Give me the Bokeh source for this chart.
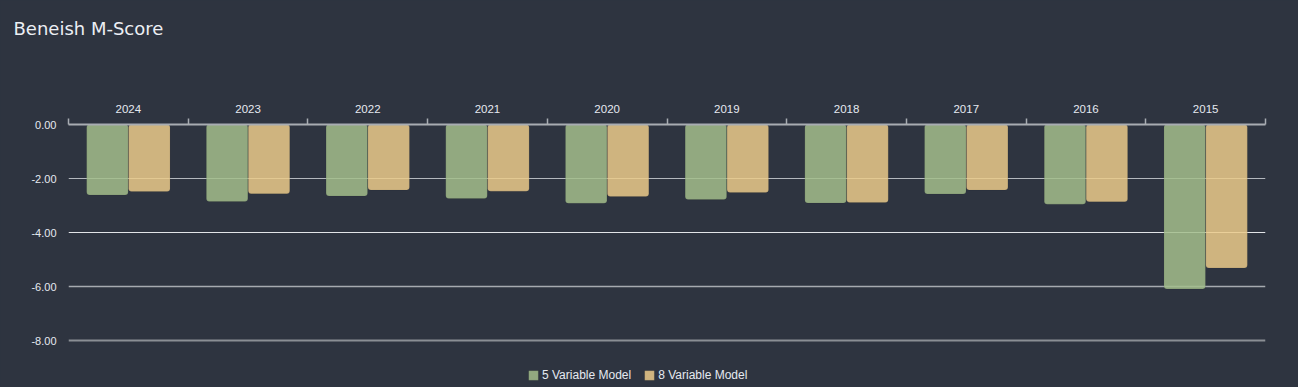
from bokeh.plotting import figure
from bokeh.models import (Range1d, FixedTicker, NumeralTickFormatter, Span, Title,
                          Legend, LegendItem, ColumnDataSource)
from bokeh.embed import file_html
from bokeh.resources import INLINE

# ---- data ----
years = ["2024", "2023", "2022", "2021", "2020", "2019", "2018", "2017", "2016", "2015"]
model5 = [-2.61, -2.85, -2.65, -2.74, -2.92, -2.78, -2.91, -2.57, -2.95, -6.09]
model8 = [-2.48, -2.56, -2.43, -2.47, -2.67, -2.52, -2.89, -2.43, -2.86, -5.31]
y_ticks = [0, -2, -4, -6, -8]
series_names = ["5 Variable Model", "8 Variable Model"]

BG = "#2E3440"
TXT = "#E5E9F0"
GREEN = "#A3BE8C"
YELLOW = "#EBCB8B"

n = len(years)
centers = [i + 0.5 for i in range(n)]
bw = 0.35

src = ColumnDataSource(dict(
    x5=[c - bw / 2 for c in centers],
    x8=[c + bw / 2 for c in centers],
    m5=model5, m8=model8, zero=[0] * n,
))

# frame spans from the top axis down to the canvas bottom; -8 sits at the last grid line
p = figure(width=1298, height=387, output_backend="svg", toolbar_location=None,
           x_range=Range1d(0, n), y_range=Range1d(-9.74, 0),
           x_axis_location="above",
           background_fill_color=BG, border_fill_color=BG,
           min_border_left=68, min_border_right=33, min_border_top=124,
           min_border_bottom=0)
p.outline_line_color = None
p.grid.visible = False

# spacer between axis and title
p.add_layout(Title(text=" ", text_font_size="10px", standoff=50), "above")

# title
p.title.text = "Beneish M-Score"
p.title.text_font = "DejaVu Sans"
p.title.text_font_size = "18px"
p.title.text_font_style = "normal"
p.title.text_color = "#ECEFF4"
p.title.align = "left"
p.title.offset = -55
p.title.standoff = 0

# grid lines
grid_styles = {-2: ("#B4B8BE", 1), -4: ("#E2E4E8", 1), -6: ("#A6AAB0", 1.5), -8: ("#8A8E94", 2)}
for yv in y_ticks[1:]:
    col, w = grid_styles[yv]
    p.add_layout(Span(location=yv, dimension="width", line_color=col, line_width=w,
                      level="underlay"))

r5 = p.vbar(x="x5", top="zero", bottom="m5", width=bw * 0.99, source=src,
            fill_color=GREEN, fill_alpha=0.85, line_color="#000000", line_alpha=0.08,
            border_radius=3)
r8 = p.vbar(x="x8", top="zero", bottom="m8", width=bw * 0.99, source=src,
            fill_color=YELLOW, fill_alpha=0.85, line_color="#000000", line_alpha=0.08,
            border_radius=3)

# x axis (top)
xa = p.xaxis[0]
xa.ticker = FixedTicker(ticks=centers, minor_ticks=list(range(n + 1)))
xa.major_label_overrides = {c: y for c, y in zip(centers, years)}
xa.major_tick_out = 0
xa.major_tick_in = 0
xa.minor_tick_out = 6
xa.minor_tick_in = 0
xa.minor_tick_line_color = "#A8ACB2"
xa.minor_tick_line_width = 1.5
xa.axis_line_color = "#A8ACB2"
xa.axis_line_width = 2
xa.major_label_text_font = "Liberation Sans"
xa.major_label_text_font_size = "11.5px"
xa.major_label_text_color = TXT
xa.major_label_standoff = 6

# y axis
ya = p.yaxis[0]
ya.ticker = FixedTicker(ticks=y_ticks)
ya.formatter = NumeralTickFormatter(format="0.00")
ya.axis_line_color = None
ya.major_tick_line_color = None
ya.minor_tick_line_color = None
ya.major_label_text_font = "Liberation Sans"
ya.major_label_text_font_size = "11px"
ya.major_label_text_color = TXT
ya.major_label_standoff = 6

legend = Legend(items=[LegendItem(label=series_names[0], renderers=[r5]),
                       LegendItem(label=series_names[1], renderers=[r8])],
                location=(459, 5), orientation="horizontal",
                background_fill_alpha=0, border_line_alpha=0,
                padding=0, margin=0, spacing=12, label_standoff=3,
                glyph_width=12, glyph_height=12, label_height=12,
                label_text_font="Liberation Sans", label_text_font_size="12px",
                label_text_color=TXT, label_text_baseline="middle")
p.add_layout(legend)

html = file_html(p, INLINE)
html = html.replace("</head>", "<style>html,body{background:#2E3440;}</style></head>", 1)
open("out.html", "w").write(html)
